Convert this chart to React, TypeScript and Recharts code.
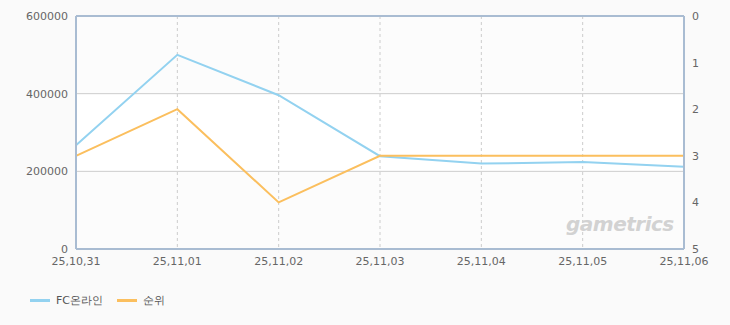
import React from 'react';
import {
  LineChart,
  Line,
  XAxis,
  YAxis,
  CartesianGrid,
  Legend,
  ReferenceLine,
} from 'recharts';

const dates = ['25,10,31', '25,11,01', '25,11,02', '25,11,03', '25,11,04', '25,11,05', '25,11,06'];
const users = [267000, 500000, 396000, 239000, 220000, 224000, 212000];
const ranks = [3, 2, 4, 3, 3, 3, 3];
const leftTicks = [0, 200000, 400000, 600000];
const rightTicks = [0, 1, 2, 3, 4, 5];

const data = dates.map((d, i) => ({ date: d, users: users[i], rank: ranks[i] }));

const AXIS = '#a9bcd2';
const FONT = '"DejaVu Sans", sans-serif';

// legend with wide line markers like the original
const renderLegend = (props: any) => {
  const { payload } = props;
  return (
    <div style={{ display: 'flex', paddingLeft: 30, paddingTop: 22, fontFamily: FONT, fontSize: 11, color: '#555' }}>
      {payload.map((p: any) => (
        <div key={p.value} style={{ display: 'flex', alignItems: 'center', marginRight: 14 }}>
          <span style={{ display: 'inline-block', width: 20, height: 3, background: p.color, marginRight: 6 }} />
          <span>{p.value}</span>
        </div>
      ))}
    </div>
  );
};

export default function App() {
  return (
    <div style={{ position: 'absolute', left: 0, top: 0, width: 730, height: 325, background: '#fafafa' }}>
      <LineChart width={730} height={325} data={data} margin={{ top: 16, right: 0, left: 0, bottom: 17 }}>
        <CartesianGrid
          yAxisId="left"
          vertical={false}
          stroke="#cccccc"
          horizontalFill={['#fcfcfc', '#ffffff', '#fcfcfc']}
          fillOpacity={1}
        />
        <CartesianGrid yAxisId="left" horizontal={false} stroke="#cccccc" strokeDasharray="3 3" />
        <XAxis
          dataKey="date"
          axisLine={{ stroke: AXIS, strokeWidth: 2 }}
          tickLine={false}
          tick={{ fill: '#666', fontSize: 11, fontFamily: FONT }}
          tickMargin={2}
          interval={0}
          height={22}
        />
        <YAxis
          yAxisId="left"
          domain={[0, 600000]}
          ticks={leftTicks}
          width={76}
          axisLine={{ stroke: AXIS, strokeWidth: 2 }}
          tickLine={false}
          tickMargin={2}
          tick={{ fill: '#666', fontSize: 11, fontFamily: FONT }}
        />
        <YAxis
          yAxisId="right"
          orientation="right"
          domain={[0, 5]}
          reversed
          ticks={rightTicks}
          width={46}
          axisLine={{ stroke: AXIS, strokeWidth: 2 }}
          tickLine={false}
          tickMargin={2}
          tick={{ fill: '#666', fontSize: 11, fontFamily: FONT, textAnchor: 'start' }}
        />
        <ReferenceLine yAxisId="left" y={600000} stroke={AXIS} strokeWidth={2} />
        <Legend verticalAlign="bottom" align="left" content={renderLegend} />
        <Line
          yAxisId="left"
          type="linear"
          dataKey="users"
          name="FC온라인"
          stroke="#93d2f0"
          strokeWidth={2}
          dot={false}
          isAnimationActive={false}
        />
        <Line
          yAxisId="right"
          type="linear"
          dataKey="rank"
          name="순위"
          stroke="#fbbf5e"
          strokeWidth={2}
          dot={false}
          isAnimationActive={false}
        />
      </LineChart>
      <div
        style={{
          position: 'absolute',
          left: 566,
          top: 212,
          fontFamily: FONT,
          fontSize: 20,
          fontWeight: 'bold',
          fontStyle: 'italic',
          color: '#d2d2d2',
          letterSpacing: -0.5,
        }}
      >
        gametrics
      </div>
    </div>
  );
}
